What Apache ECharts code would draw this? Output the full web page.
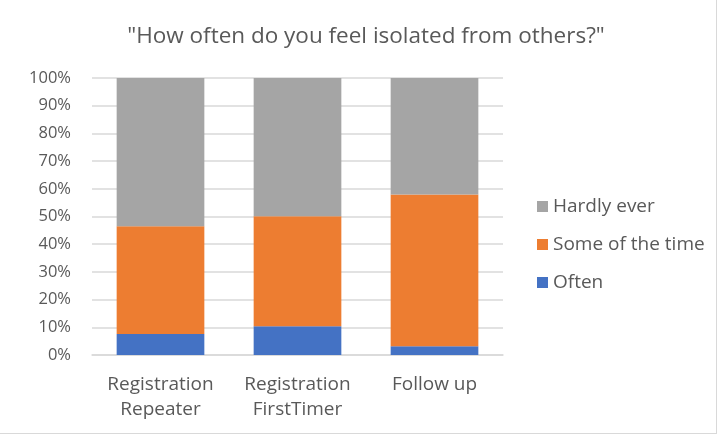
<!DOCTYPE html>
<html>
<head>
<meta charset="utf-8">
<script src="https://cdn.jsdelivr.net/npm/echarts@6/dist/echarts.min.js"></script>
<style>
  html, body { margin: 0; padding: 0; background: #fff; }
  #chart { width: 716px; height: 433px; border-right: 1px solid #d9d9d9; border-bottom: 1px solid #d9d9d9; }
</style>
</head>
<body>
<div id="chart"></div>
<script>
// Survey answers, share of respondents (%)
const categories = ['Registration\nRepeater', 'Registration\nFirstTimer', 'Follow up'];
const often = [7.6, 10.4, 3.2];
const someOfTheTime = [38.9, 39.7, 54.7];
const hardlyEver = [53.5, 49.9, 42.1];
const yTicks = [0, 10, 20, 30, 40, 50, 60, 70, 80, 90, 100];

const font = '"Open Sans", Lato, sans-serif';
const textColor = '#595959';

const chart = echarts.init(document.getElementById('chart'));
chart.setOption({
  animation: false,
  title: {
    text: '"How often do you feel isolated from others?"',
    left: 361, top: 20, textAlign: 'center',
    textStyle: { fontFamily: font, fontSize: 22.5, fontWeight: 'normal', color: textColor }
  },
  legend: {
    orient: 'vertical',
    left: 532, top: 192,
    itemWidth: 11, itemHeight: 11, itemGap: 19,
    icon: 'rect',
    data: ['Hardly ever', 'Some of the time', 'Often'],
    textStyle: { fontFamily: font, fontSize: 19, color: textColor }
  },
  grid: { left: 92, right: 213, top: 78, bottom: 78 },
  xAxis: {
    type: 'category',
    data: categories,
    axisTick: { show: false },
    axisLine: { lineStyle: { color: '#d9d9d9', width: 1.5 } },
    axisLabel: { interval: 0, hideOverlap: false, fontFamily: font, fontSize: 19, color: textColor, lineHeight: 25, margin: 17 }
  },
  yAxis: {
    type: 'value',
    min: yTicks[0], max: yTicks[yTicks.length - 1], interval: 10,
    axisLine: { show: false },
    axisTick: { show: false },
    splitLine: { lineStyle: { color: '#d9d9d9', width: 1.5 } },
    axisLabel: { fontFamily: font, fontSize: 16.5, color: textColor, margin: 21, formatter: v => v + '%' }
  },
  series: [
    { name: 'Often', type: 'bar', stack: 'total', barWidth: '64%', data: often, itemStyle: { color: '#4472c4' } },
    { name: 'Some of the time', type: 'bar', stack: 'total', data: someOfTheTime, itemStyle: { color: '#ed7d31' } },
    { name: 'Hardly ever', type: 'bar', stack: 'total', data: hardlyEver, itemStyle: { color: '#a5a5a5' } }
  ]
});
</script>
</body>
</html>
